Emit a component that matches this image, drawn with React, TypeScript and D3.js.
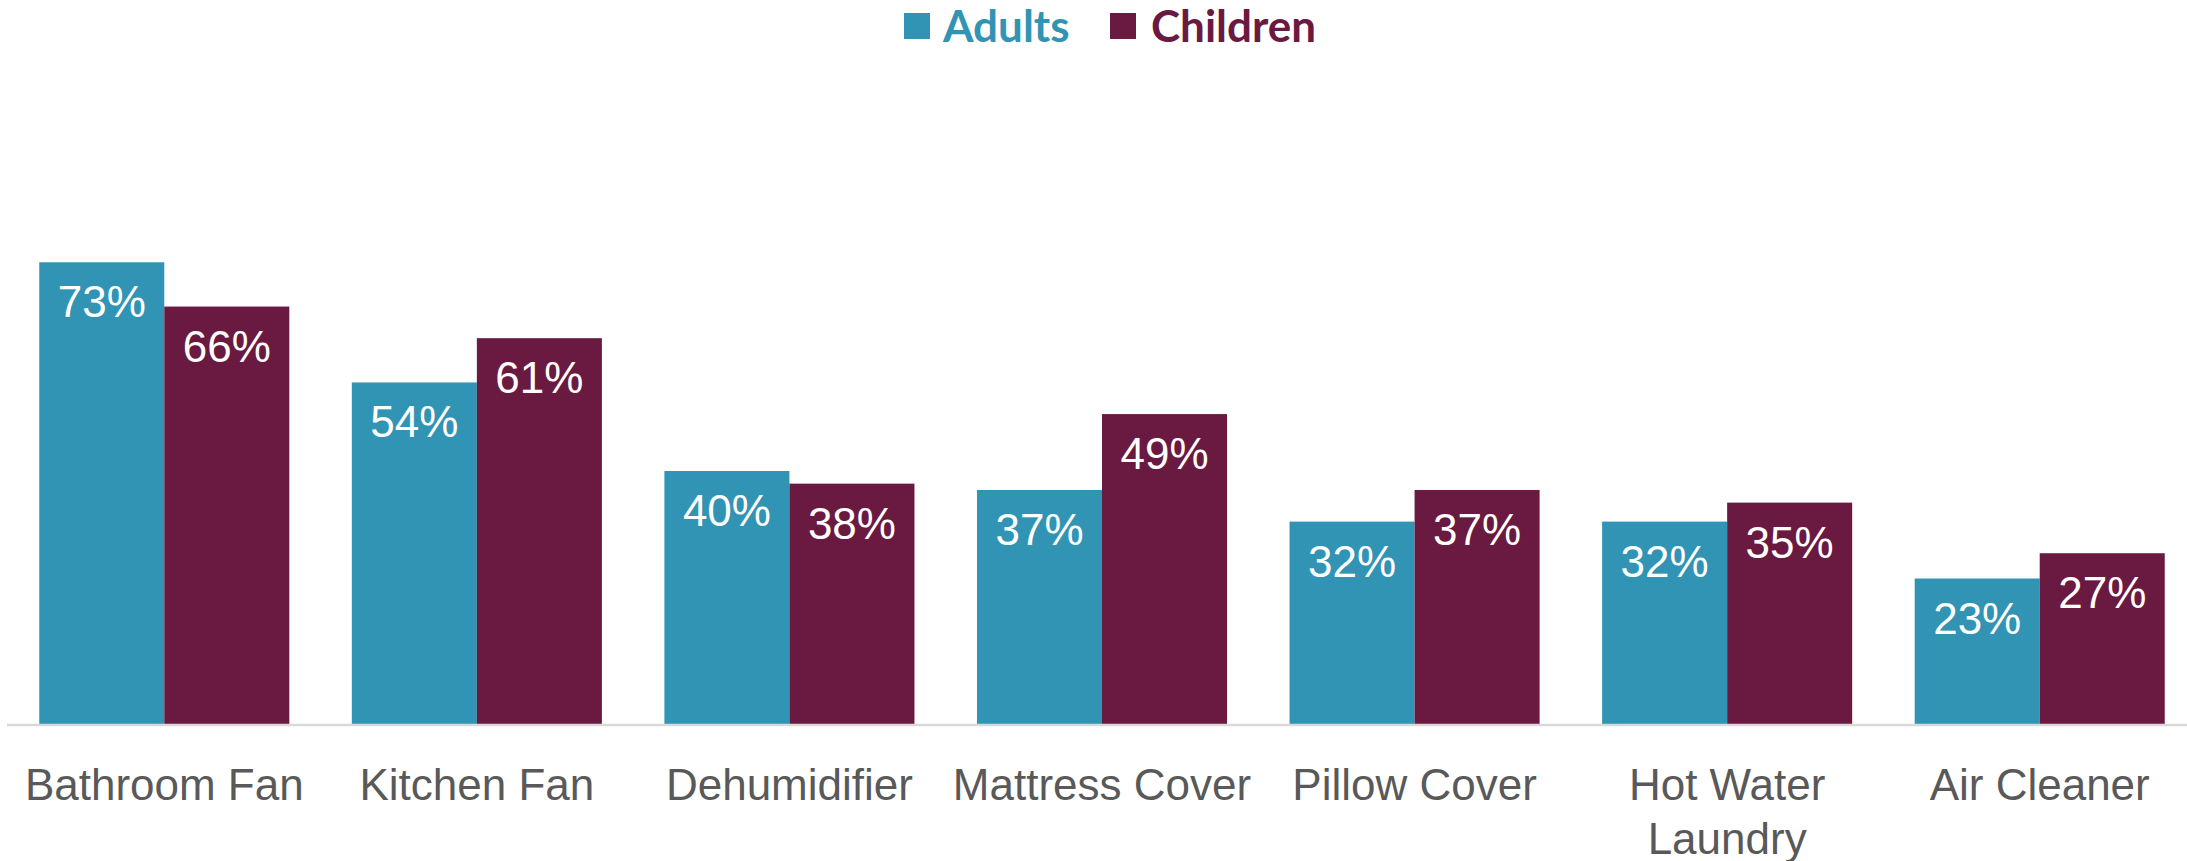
import React from "react";
import * as d3 from "d3";

const categories: string[][] = [
  ["Bathroom Fan"],
  ["Kitchen Fan"],
  ["Dehumidifier"],
  ["Mattress Cover"],
  ["Pillow Cover"],
  ["Hot Water", "Laundry"],
  ["Air Cleaner"],
];
const seriesNames = ["Adults", "Children"];
const adults = [0.73, 0.54, 0.4, 0.37, 0.32, 0.32, 0.23];
const children = [0.66, 0.61, 0.38, 0.49, 0.37, 0.35, 0.27];
const colors = ["#3194B4", "#6A1A40"];

const W = 2187;
const H = 861;

export default function App() {
  const keys = categories.map((c) => c.join(" "));
  const x = d3
    .scaleBand<string>()
    .domain(keys)
    .range([8, 2196])
    .paddingInner(0.2)
    .paddingOuter(0.1);
  const inner = d3
    .scaleBand<string>()
    .domain(seriesNames)
    .range([0, x.bandwidth()]);
  const y = d3.scaleLinear().domain([0, 0.8]).range([724, 218]);
  const series = [adults, children];
  const fmt = d3.format(".0%");

  return (
    <svg
      width={W}
      height={H}
      style={{ position: "absolute", left: 0, top: 0, background: "#fff" }}
    >
      {series.map((vals, si) =>
        vals.map((v, i) => {
          const bx = (x(keys[i]) as number) + (inner(seriesNames[si]) as number);
          const bw = inner.bandwidth();
          return (
            <g key={`${si}-${i}`}>
              <rect
                x={bx}
                y={y(v)}
                width={bw}
                height={y(0) - y(v)}
                fill={colors[si]}
              />
              <text
                x={bx + bw / 2}
                y={y(v) + 55}
                textAnchor="middle"
                fill="#fff"
                fontFamily="'Liberation Sans', Arial, sans-serif"
                fontSize={44}
              >
                {fmt(v)}
              </text>
            </g>
          );
        })
      )}
      <line x1={7} x2={W} y1={y(0) + 1} y2={y(0) + 1} stroke="#D9D9D9" strokeWidth={2.5} />
      {categories.map((lines, i) => (
        <text
          key={keys[i]}
          x={(x(keys[i]) as number) + x.bandwidth() / 2}
          y={800}
          textAnchor="middle"
          fill="#595959"
          fontFamily="'Liberation Sans', Arial, sans-serif"
          fontSize={44}
        >
          {lines.map((l, j) => (
            <tspan key={j} x={(x(keys[i]) as number) + x.bandwidth() / 2} dy={j === 0 ? 0 : 54}>
              {l}
            </tspan>
          ))}
        </text>
      ))}
      <g fontFamily="Lato, 'Open Sans', sans-serif" fontWeight="bold" fontSize={44}>
        <rect x={904} y={13} width={26} height={26} fill={colors[0]} />
        <text x={943} y={42} fill={colors[0]}>
          {seriesNames[0]}
        </text>
        <rect x={1110} y={13} width={26} height={26} fill={colors[1]} />
        <text x={1151} y={42} fill={colors[1]}>
          {seriesNames[1]}
        </text>
      </g>
    </svg>
  );
}
